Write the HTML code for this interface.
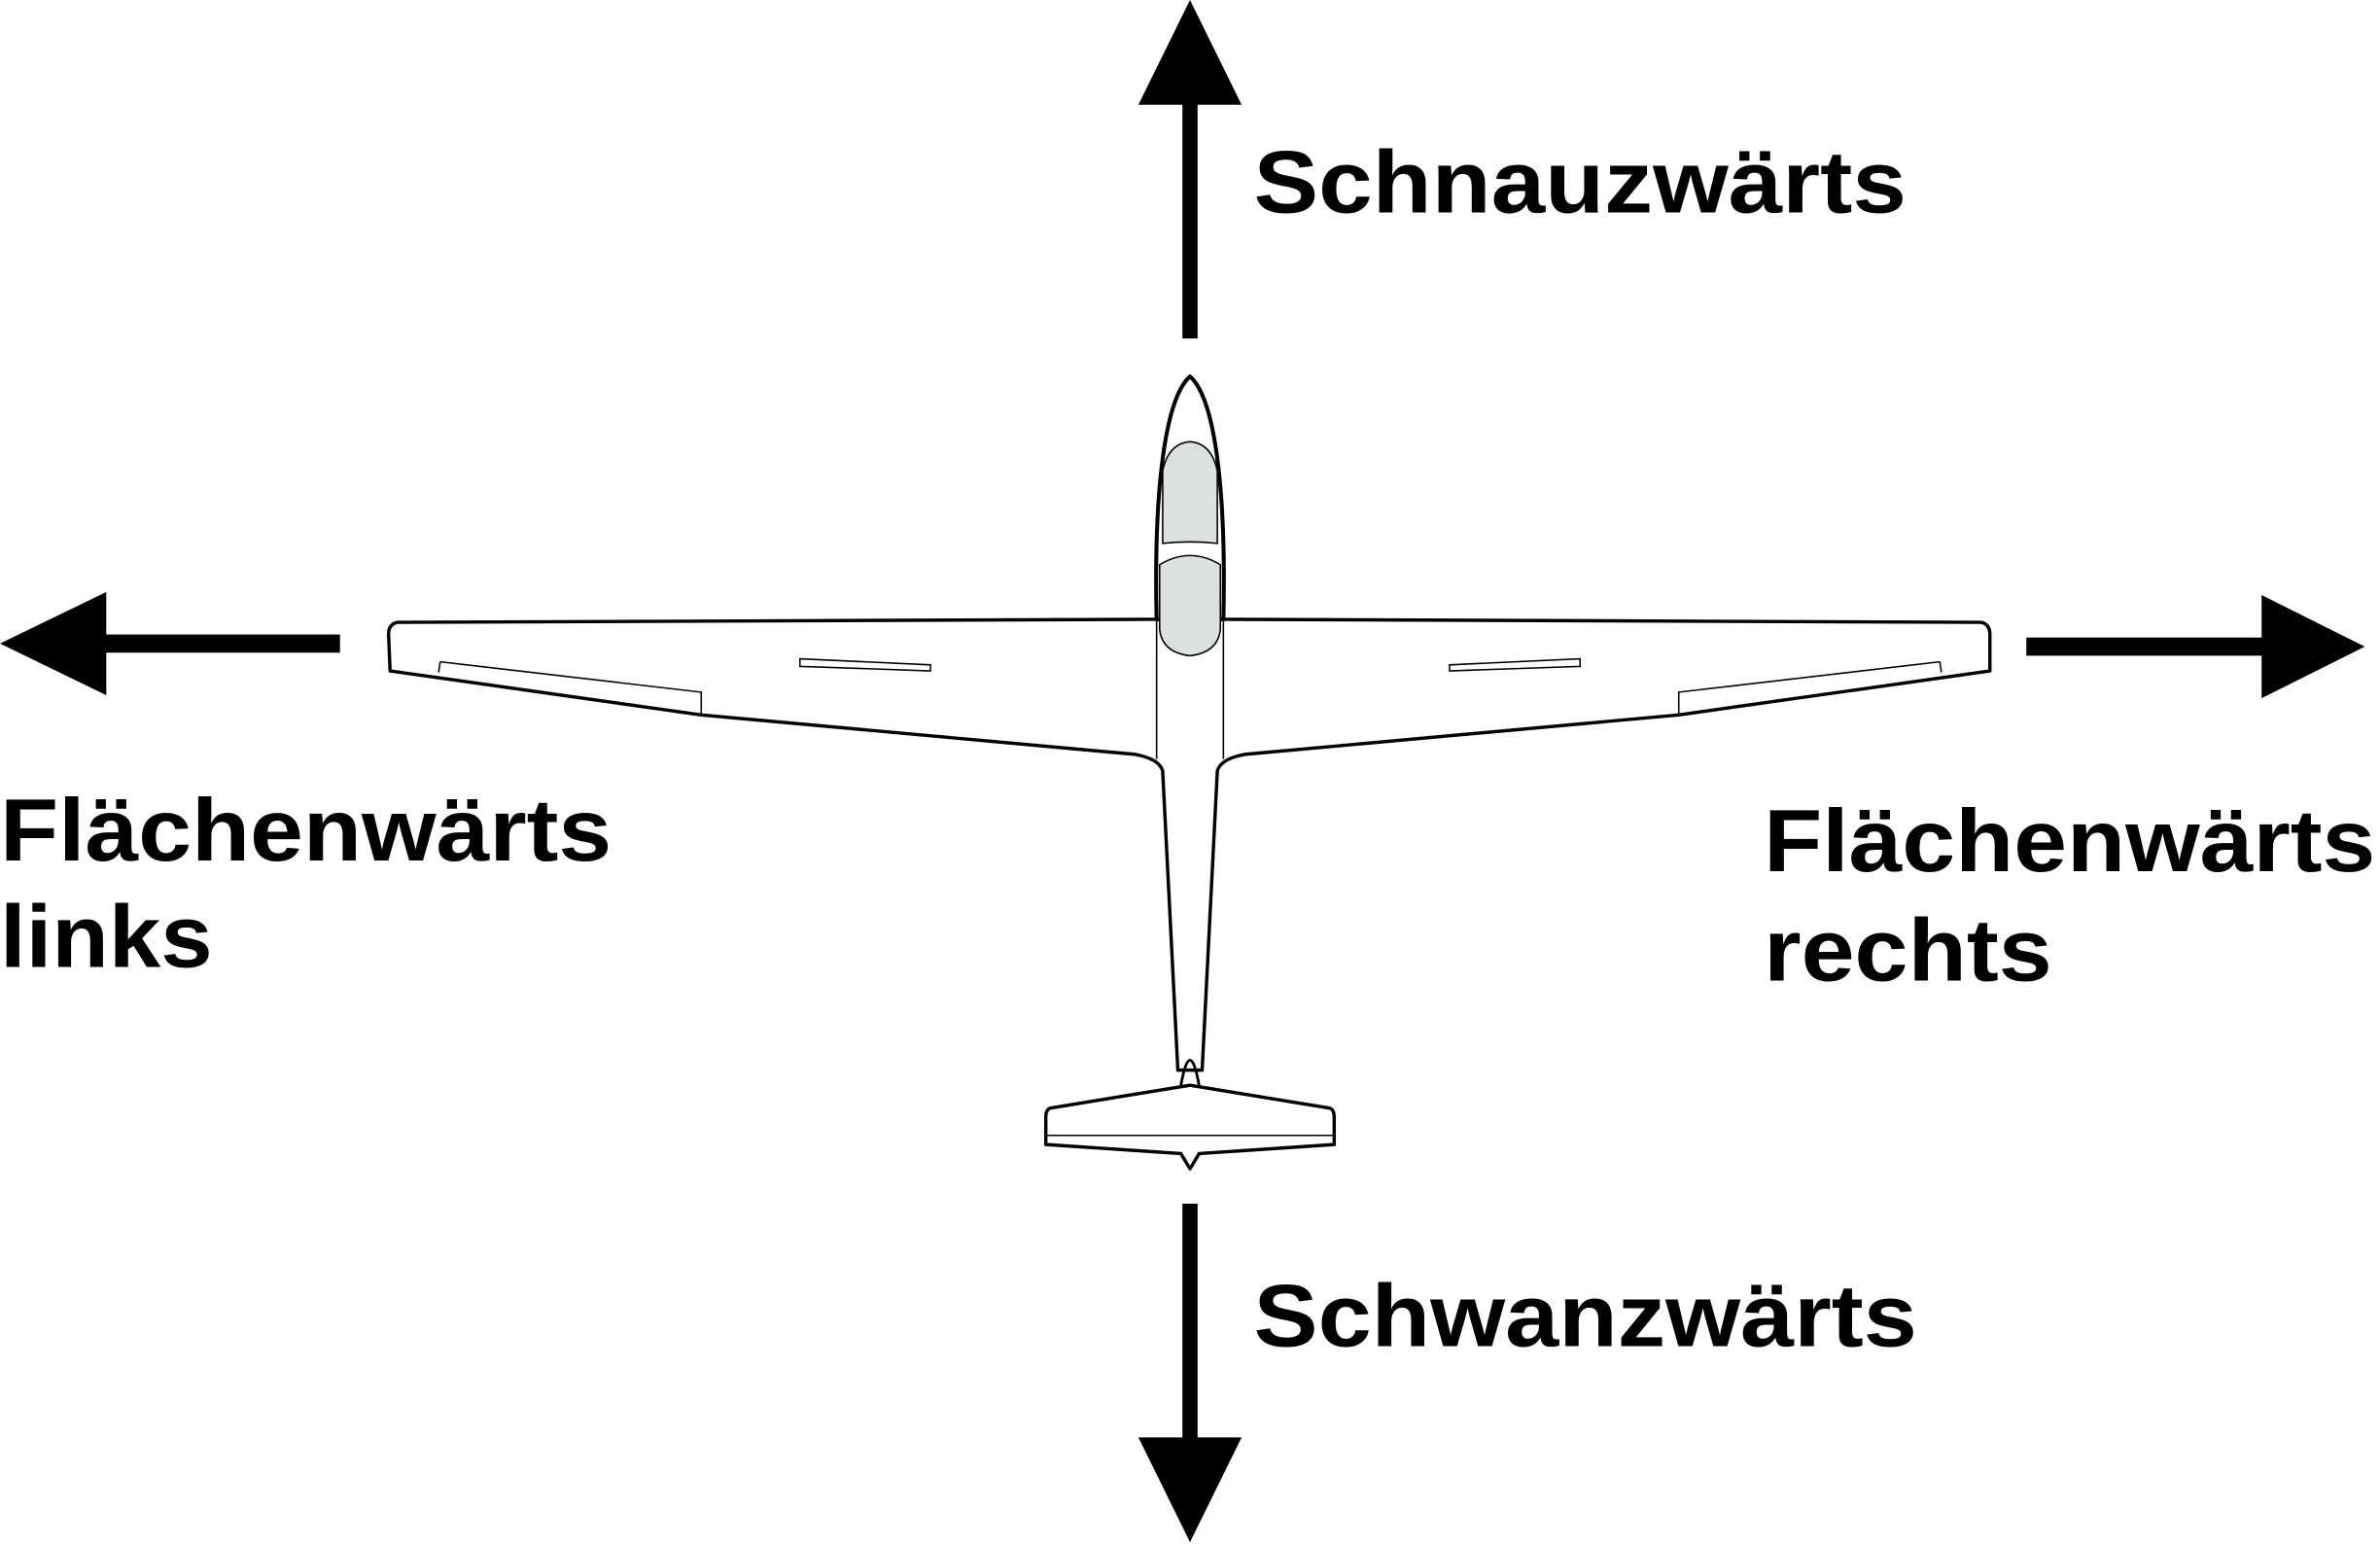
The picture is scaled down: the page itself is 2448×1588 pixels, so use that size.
<!DOCTYPE html>
<html><head><meta charset="utf-8"><style>html,body{margin:0;padding:0;background:#fff}svg{display:block}</style></head>
<body>
<svg width="2448" height="1588" viewBox="0 0 1568 1017.2" preserveAspectRatio="none" xmlns="http://www.w3.org/2000/svg">
<rect width="1568" height="1018" fill="#fff"/>
<g fill="#000">
<rect x="779" y="66" width="10" height="157"/>
<polygon points="784,0 750,69 818,69"/>
<rect x="779" y="793" width="10" height="157"/>
<polygon points="750,947 818,947 784,1016"/>
<rect x="66" y="418" width="158" height="12"/>
<polygon points="0,424 70,390 70,458"/>
<rect x="1335" y="420" width="158" height="12"/>
<polygon points="1490,392 1490,460 1558,426"/>
</g>
<g font-family="Liberation Sans, Arial, sans-serif" font-weight="bold" font-size="58" fill="#000">
<text x="826" y="140" textLength="430" lengthAdjust="spacingAndGlyphs">Schnauzwärts</text>
<text x="826" y="887" textLength="437" lengthAdjust="spacingAndGlyphs">Schwanzwärts</text>
<text x="0" y="567" textLength="403" lengthAdjust="spacingAndGlyphs">Flächenwärts</text>
<text x="0" y="637" textLength="140" lengthAdjust="spacingAndGlyphs">links</text>
<text x="1162" y="574" textLength="403" lengthAdjust="spacingAndGlyphs">Flächenwärts</text>
<text x="1162" y="646" textLength="190" lengthAdjust="spacingAndGlyphs">rechts</text>
</g>
<g fill="#fff" stroke="#000" stroke-width="2.2" stroke-linejoin="round">
<path d="M762,408 L262,410 Q256,411 256,418 L257,442 L462,471 L748,497 Q764,500 766,508 L776,705 L792,705 L802,508 Q804,500 820,497 L1106,471 L1311,442 L1311,418 Q1311,411 1305,410 L806,408 Z"/>
<path d="M762,408 C760,320 768,262 784,248 C800,262 808,320 806,408 Z" stroke-width="2.6"/>
<path d="M784,715 L692,730 Q689,731 689,736 L689,754 L778,760 L784,770 L790,760 L879,754 L879,736 Q879,731 876,730 Z"/>
</g>
<g fill="none" stroke="#000" stroke-width="1">
<line x1="762" y1="408" x2="762" y2="500"/>
<line x1="806" y1="408" x2="806" y2="500"/>
<line x1="689" y1="748" x2="879" y2="748"/>
<path d="M290,436 L462,456 L462,471"/>
<path d="M290,436 L289,443"/>
<path d="M1278,436 L1106,456 L1106,471"/>
<path d="M1278,436 L1279,443"/>
<path d="M527,434 L613,438 L613,442 L527,439 Z"/>
<path d="M955,438 L1041,434 L1041,439 L955,442 Z"/>
<path d="M778,715 Q784,682 790,715" stroke-width="1.8"/>
</g>
<g fill="#dce0e0" stroke="#000" stroke-width="1">
<path d="M766,358 L766,310 Q770,292 784,291 Q798,292 802,310 L802,358 Q784,356 766,358 Z"/>
<path d="M764,372 Q784,360 804,372 L804,415 Q802,430 784,432 Q766,430 764,415 Z"/>
</g>
</svg>
</body></html>
